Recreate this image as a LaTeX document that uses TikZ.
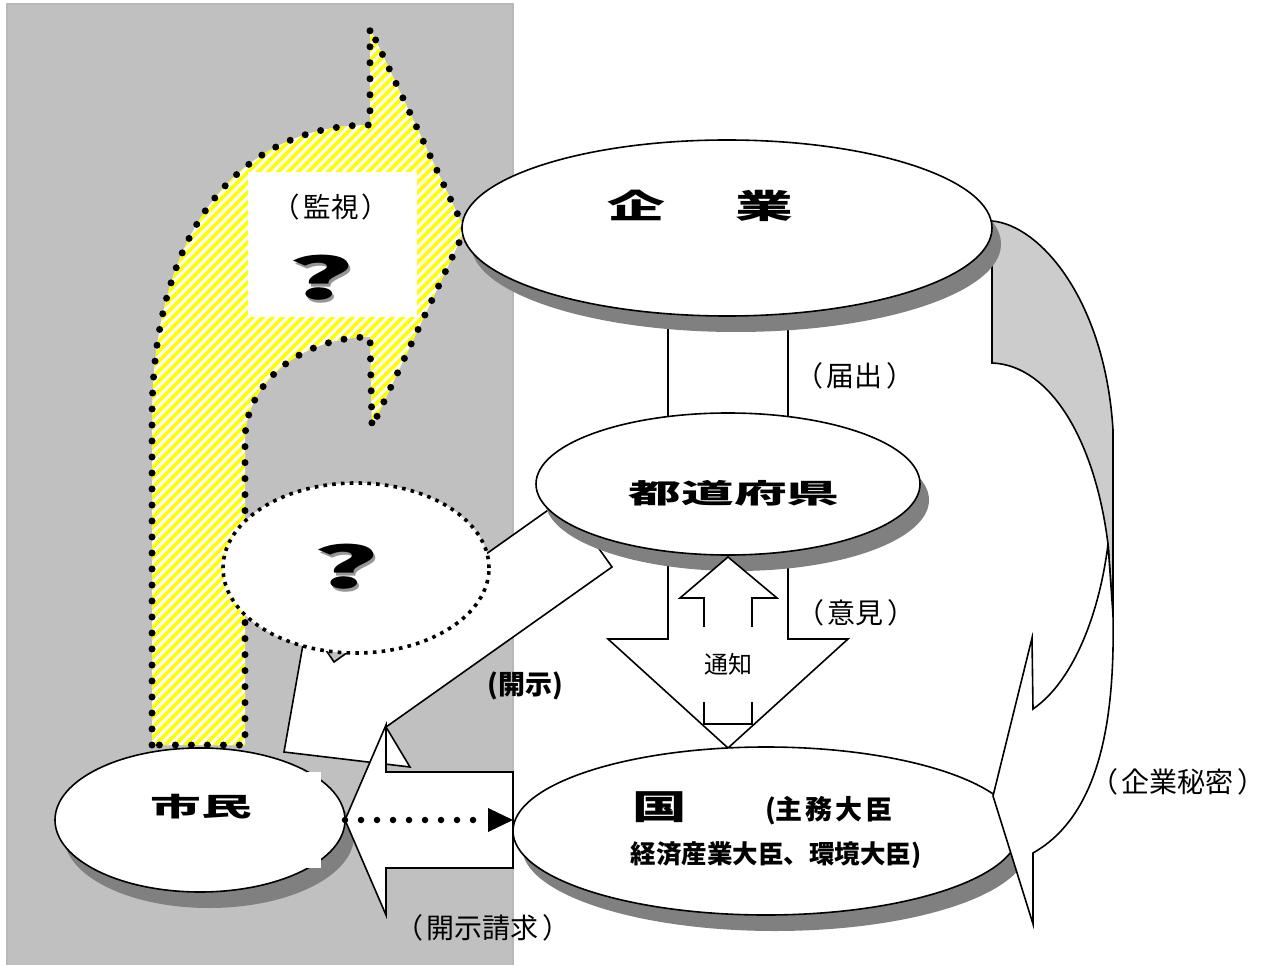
\documentclass[tikz,border=0pt]{standalone}
\usepackage{fontspec}
\setmainfont{Noto Sans CJK JP}
\usetikzlibrary{shapes.geometric,arrows.meta,shadows,calc}
\definecolor{bggray}{RGB}{192,192,192}
\definecolor{bgedge}{RGB}{184,184,184}
\definecolor{shadowgray}{RGB}{128,128,128}
\definecolor{qshadow}{RGB}{150,150,150}
\definecolor{bandgray}{RGB}{204,204,204}
\definecolor{hatchyellow}{RGB}{255,255,0}
\newcommand\fs[1]{\fontsize{#1}{#1}\selectfont}
\newcommand\lp{\makebox[1em][r]{（\hspace{0.12em}}}
\newcommand\rp{\makebox[1em][l]{\hspace{0.12em}）}}
\def\monpath{(152,745) -- (152,420) .. controls (152,230) and (240,125) .. (370,125) -- (370,28) -- (465,230) -- (372,427) -- (370,337) .. controls (301,337) and (245,383) .. (245,440) -- (245,745) -- cycle}
\begin{document}
\begin{tikzpicture}[x=1pt,y=-1pt,
  every node/.style={inner sep=0pt, outer sep=0pt},
  outline/.style={draw=black, line width=1.6pt, line join=miter},
  oval/.style={ellipse, outline, fill=white},
  shad/.style={drop shadow={shadow xshift=9pt, shadow yshift=-16pt, fill=shadowgray, opacity=1}},
  hatchline/.style={draw=hatchyellow, line width=3.8pt},
  bigdots/.style={draw=black, line width=7pt, dash pattern=on 0pt off 16pt, line cap=round},
  squaredots/.style={draw=black, line width=3.6pt, dash pattern=on 3.6pt off 5.2pt},
  roundots/.style={draw=black, line width=6.5pt, dash pattern=on 0pt off 16pt, line cap=round},
  lbl/.style={font=\fs{28}},
]
\useasboundingbox (0,0) rectangle (1282,965);
\fill[white] (0,0) rectangle (1282,965);
% grey left panel
\draw[fill=bggray, draw=bgedge, line width=1.5pt] (7,4) rectangle (513,968);

% yellow hatched arrow (monitoring)
\begin{scope}
  \clip \monpath;
  \fill[white] (140,20) rectangle (480,760);
  \foreach \i in {-620,-610,...,480} {
    \draw[hatchline] (\i,760) -- ++(760,-760);
  }
\end{scope}
\path[bigdots] \monpath;
\node[fill=white, minimum width=169pt, minimum height=145pt] (kanshibox) at (332.5,244.5) {};
\node[font=\fs{27.5}] (kanshi) at (331,207) {\lp 監視\rp};
\node[text=qshadow] (q1s) at (323.5,280.5) {\scalebox{2.2}[1]{\fs{57}\bfseries ?}};
\node (q1) at (321,278) {\scalebox{2.2}[1]{\fs{57}\bfseries ?}};

% disclosure arrow (prefecture -> citizens)
\draw[outline, fill=white] (563.7,499) -- (612,567) -- (386,727) -- (410,767) -- (284,752) -- (307,622) -- (334,662) -- cycle;

% trade secret curved arrow, back face
\draw[outline, fill=bandgray] (992,221) .. controls (1040,225) and (1105,300) .. (1113,430) -- (1113,615) -- (1108,544) .. controls (1095,440) and (1050,365) .. (992,363) -- cycle;

% notification band between kigyo and todofuken
\draw[outline, fill=white] (668,300) rectangle (788,430);
% big down arrow
\draw[outline, fill=white] (668,470) -- (668,639) -- (608,639) -- (728,748) -- (848,639) -- (788,639) -- (788,470) -- cycle;

% company
\node[oval, shad, minimum width=530pt, minimum height=176pt] (kigyo) at (727,228) {};
\node (kigyotxt) at (700,206) {\scalebox{1.75}[1]{\fs{33}\bfseries 企\hspace{40pt}業}};

% prefecture
\node[oval, shad, minimum width=384pt, minimum height=142pt] (todo) at (728,484) {};
\node (todotxt) at (734,493) {\scalebox{1.95}[1]{\fs{27}\bfseries 都道府県}};

% small up arrow and label
\draw[outline, fill=white] (704,724) -- (704,598) -- (680,598) -- (728,557) -- (777,598) -- (752,598) -- (752,724) -- cycle;
\node[fill=white, minimum width=62pt, minimum height=75pt, font=\fs{24}] (tsuchi) at (728,664.5) {通知};

% state
\node[oval, shad, minimum width=506pt, minimum height=168pt] (kuni) at (766,831) {};
\node (kunitxt) at (660,807) {\scalebox{1.6}[1]{\fs{34}\bfseries 国}};
\node[font=\fs{27}\bfseries] (shumu) at (829,811) {(主\hspace{3pt}務\hspace{3pt}大\hspace{3pt}臣};
\node[font=\fs{25.5}\bfseries] (keizai) at (776,855) {経済産業大臣、環境大臣)};

% trade secret curved arrow, front face
\draw[outline, fill=white] (1108,544) .. controls (1100,610) and (1075,680) .. (1033,709) -- (1032,638) -- (993,796) -- (1033,924) -- (1033,853) .. controls (1100,815) and (1115,720) .. (1113,615) -- cycle;

% callout
\node[ellipse, fill=white, squaredots, minimum width=266pt, minimum height=170pt] (callout) at (356,568) {};
\node[text=qshadow] (q2s) at (348.5,569.5) {\scalebox{2.2}[1]{\fs{57}\bfseries ?}};
\node (q2) at (346,567) {\scalebox{2.2}[1]{\fs{57}\bfseries ?}};

% citizens
\node[oval, shad, minimum width=290pt, minimum height=144pt] (shimin) at (200,820) {};
\node (shimintxt) at (201,807) {\scalebox{1.95}[1]{\fs{26}\bfseries 市民}};
\fill[white] (307,772) rectangle (321,868);

% disclosure request arrow
\draw[outline, fill=white] (513,772) -- (386,772) -- (386,725) -- (shimin.east) -- (386,915) -- (386,868) -- (513,868) -- cycle;
\coordinate (reqend) at (shimin.east -| kuni.west);
\draw[roundots, -{Triangle[length=25pt,width=24pt,line width=0pt]}] (shimin.east) -- (reqend);

% labels
\node[lbl] (todokede) at (855,376) {\lp 届出\rp};
\node[lbl] (iken) at (856,613) {\lp 意見\rp};
\node[font=\fs{27}\bfseries] (kaiji) at (525,686) {(開示)};
\node[lbl] (seikyu) at (483,928) {\lp 開示請求\rp};
\node[lbl] (himitsu) at (1178,782) {\lp 企業秘密\rp};
\end{tikzpicture}
\end{document}
